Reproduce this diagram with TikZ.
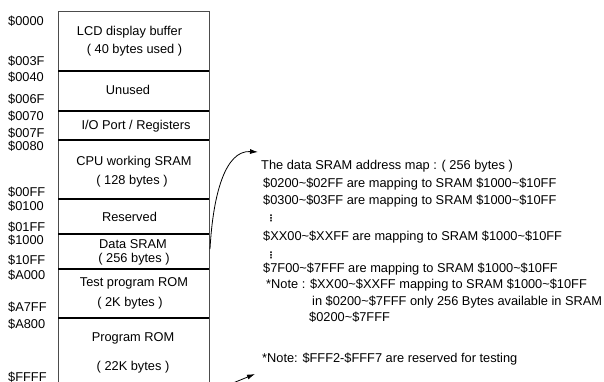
\documentclass[tikz,border=0pt]{standalone}
\usepackage{fontspec}
\setmainfont{Liberation Sans}
\newfontfamily\dvfont{DejaVu Sans}
\usetikzlibrary{arrows.meta}
\begin{document}
\begin{tikzpicture}[x=1pt,y=-1pt,
  txt/.style={font=\fontsize{12.8}{15}\selectfont, inner sep=0pt, anchor=base},
  addr/.style={txt, anchor=base west},
  note/.style={txt, anchor=base west},
  dotsnode/.style={inner sep=0pt, font=\dvfont\bfseries\fontsize{9}{10}\selectfont},
  frame/.style={line width=1pt, draw=black!70},
  divider/.style={line width=1.2pt, draw=black},
  conn/.style={line width=0.8pt, draw=black, -{Latex[length=8pt,width=5pt]}}]
\useasboundingbox (0,0) rectangle (604,382);
% memory map frame
\draw[frame] (58,392) -- (58,12) -- (209,12) -- (209,392);
\foreach \y in {71,111,140,199,234,269,318} \draw[divider] (58,\y) -- (209,\y);
% address labels
\node[addr] (a0000) at (8,26) {\$0000};
\node[addr] (a003F) at (8,65.5) {\$003F};
\node[addr] (a0040) at (8,81.5) {\$0040};
\node[addr] (a006F) at (8,104) {\$006F};
\node[addr] (a0070) at (8,121) {\$0070};
\node[addr] (a007F) at (8,137.5) {\$007F};
\node[addr] (a0080) at (8,150) {\$0080};
\node[addr] (a00FF) at (8,196.5) {\$00FF};
\node[addr] (a0100) at (8,210) {\$0100};
\node[addr] (a01FF) at (8,231) {\$01FF};
\node[addr] (a1000) at (8,244.5) {\$1000};
\node[addr] (a10FF) at (8,264) {\$10FF};
\node[addr] (aA000) at (8,279.5) {\$A000};
\node[addr] (aA7FF) at (8,311.5) {\$A7FF};
\node[addr] (aA800) at (8,328.5) {\$A800};
\node[addr] (aFFFF) at (8,381.5) {\$FFFF};
% region texts
\node[txt] (lcd) at (129.5,35.5) {LCD display buffer};
\node[txt] (lcdb) at (134.5,54) {( 40 bytes used )};
\node[txt] (unused) at (128,94.3) {Unused};
\node[txt] (io) at (136,129.5) {I/O Port / Registers};
\node[txt] (cpu) at (134,165.5) {CPU working SRAM};
\node[txt] (cpub) at (132,184) {( 128 bytes )};
\node[txt] (res) at (129.5,221) {Reserved};
\node[txt] (dsram) at (133,248) {Data SRAM};
\node[txt] (dsramb) at (134,262.5) {( 256 bytes )};
\node[txt] (test) at (134,286) {Test program ROM};
\node[txt] (testb) at (130,306) {( 2K bytes )};
\node[txt] (prog) at (133,341) {Program ROM};
\node[txt] (progb) at (133,370) {( 22K bytes )};
% right-hand notes
\node[note] (title) at (261,169) {The data SRAM address map : ( 256 bytes )};
\node[note] (m1) at (263,187) {\$0200\char"7E\$02FF are mapping to SRAM \$1000\char"7E\$10FF};
\node[note] (m2) at (263,204.5) {\$0300\char"7E\$03FF are mapping to SRAM \$1000\char"7E\$10FF};
\node[dotsnode] (d1) at (271,218) {⋮};
\node[note] (m3) at (263,240) {\$XX00\char"7E\$XXFF are mapping to SRAM \$1000\char"7E\$10FF};
\node[dotsnode] (d2) at (271,255.5) {⋮};
\node[note] (m4) at (263,272) {\$7F00\char"7E\$7FFF are mapping to SRAM \$1000\char"7E\$10FF};
\node[note] (n1) at (266,288.5) {*Note : \$XX00\char"7E\$XXFF mapping to SRAM \$1000\char"7E\$10FF};
\node[note] (n2) at (312,305) {in \$0200\char"7E\$7FFF only 256 Bytes available in SRAM};
\node[note] (n3) at (309,321) {\$0200\char"7E\$7FFF};
\node[note] (n4) at (262,362) {*Note: \$FFF2-\$FFF7 are reserved for testing};
% connectors
\coordinate (srcA) at (210,249);
\coordinate (tipA) at (258,152);
\coordinate (srcB) at (233,383);
\coordinate (tipB) at (255,374);
\draw[conn] (srcA) .. controls (213,195) and (225,150) .. (tipA);
\draw[conn] (srcB) -- (tipB);
\end{tikzpicture}
\end{document}
